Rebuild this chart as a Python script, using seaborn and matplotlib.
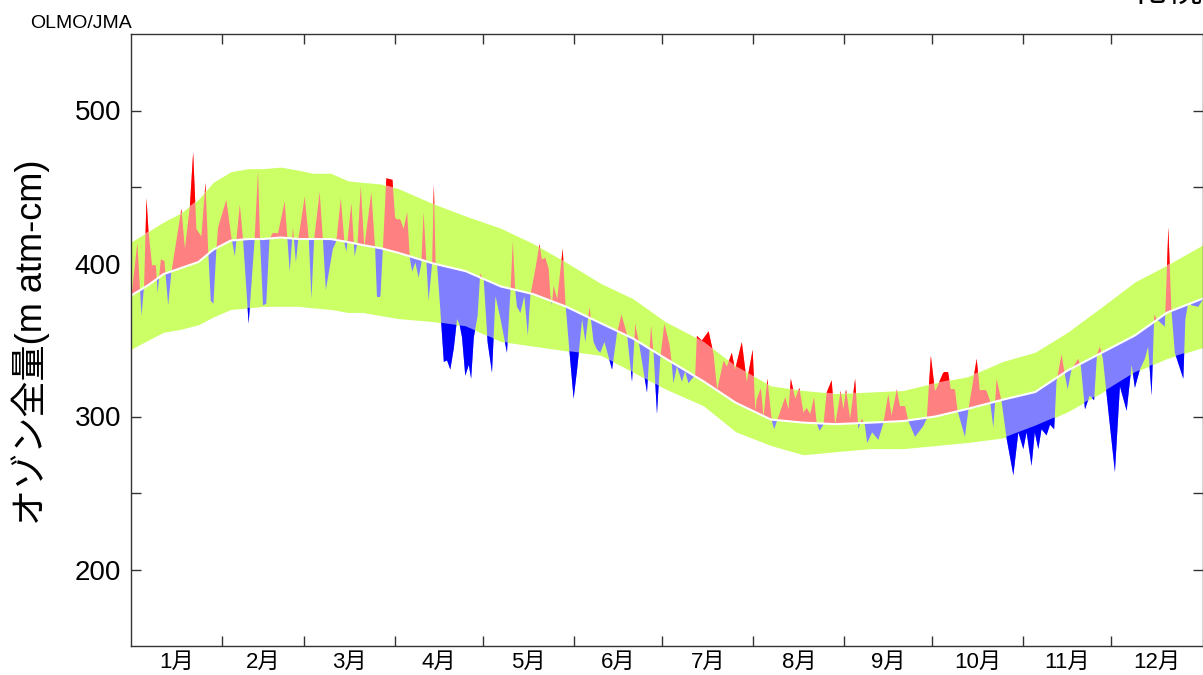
import numpy as np
import seaborn as sns
import matplotlib
matplotlib.use("Agg")
import matplotlib.pyplot as plt

# climatology (day of year)
clim_day = [0, 6, 11, 17, 23, 28, 34, 40, 45, 51, 57, 62, 68, 74, 79, 85, 91,
            103, 114, 126, 137, 148, 160, 171, 182, 195, 206, 218, 229, 240,
            252, 263, 274, 285, 297, 308, 319, 331, 342, 353, 365]
clim_mean = [379, 386, 393, 397, 401, 409, 415, 416, 416, 417, 416, 416, 416,
             414, 412, 410, 407, 400, 395, 385, 380, 372, 361, 351, 338, 323,
             309, 298, 296, 295, 296, 297, 300, 305, 311, 316, 330, 342, 353,
             368, 377]
clim_upper = [414, 421, 427, 433, 442, 453, 460, 462, 462, 463, 461, 459, 459,
              454, 453, 452, 449, 439, 431, 423, 413, 401, 387, 377, 362, 349,
              333, 320, 317, 315, 316, 317, 322, 326, 336, 342, 355, 372, 388,
              399, 412]
clim_lower = [344, 350, 355, 357, 360, 365, 370, 371, 372, 372, 372, 371, 370,
              368, 368, 366, 364, 362, 359, 349, 346, 343, 340, 329, 318, 307,
              290, 281, 275, 277, 279, 279, 281, 283, 286, 294, 303, 316, 329,
              338, 345]

# daily observations (key points)
obs_day = [0, 2.0, 3.4, 4.3, 5.1, 5.8, 7.0, 8.3, 8.9, 10.0, 11.2, 12.5, 13.6,
           17.0, 18.2, 19.9, 21.0, 22.1, 23.8, 25.2, 26.1, 27.0, 27.9, 28.9,
           29.5, 32.3, 34.0, 35.2, 36.9, 38.0, 39.9, 41.9, 43.1, 43.8, 44.8,
           45.9, 47.0, 48.0, 49.9, 52.2, 53.9, 55.0, 56.0, 56.8, 59.0, 60.4,
           61.3, 62.2, 64.1, 65.2, 66.2, 68.6, 69.8, 71.3, 72.6, 73.2, 74.9,
           76.0, 77.0, 78.1, 79.3, 81.7, 83.0, 83.6, 84.8, 85.6, 86.8, 88.9,
           89.8, 90.8,
           91.6, 92.7, 93.9, 94.8, 95.6, 96.7, 97.8, 98.7, 99.5, 100.5, 101.2,
           102.4, 103.0, 103.6, 104.1, 105.2, 106.4, 107.5, 108.6, 109.8,
           110.9, 111.8, 112.6, 113.7, 114.9, 115.7, 116.6, 117.9, 118.8,
           120.0, 121.3, 122.8, 124.0, 125.7, 127.9, 129.1, 129.9, 130.7,
           131.3, 132.5, 133.8, 135.0, 135.9, 137.6, 139.0, 139.8, 141.0,
           142.1, 142.7, 143.2, 143.8, 145.0, 146.9, 147.8, 149.0, 150.6,
           151.8, 153.5, 154.6, 156.0, 157.4, 158.6, 159.7, 161.1, 163.7,
           165.4, 166.9, 168.8, 170.5, 171.6, 172.8, 175.6, 177.0, 177.9,
           179.0, 180.1, 181.5, 183.3,
           184.0, 184.6, 185.8, 187.5, 188.6, 189.7, 190.9, 192.0, 192.6,
           194.3, 196.6, 198.3, 199.5, 201.7, 202.8, 204.5, 205.6, 207.9,
           209.6, 211.6, 212.5, 213.0, 214.4, 215.3, 216.6, 218.1, 218.9,
           219.8, 222.7, 223.8, 224.6, 226.1, 227.5, 228.9, 230.0, 231.2,
           232.5, 233.4, 234.4, 235.7, 236.8, 238.5, 239.7, 241.6, 242.5,
           243.4, 244.8, 246.5, 247.6, 248.8, 249.8, 250.6, 252.3, 254.4,
           256.1, 257.8, 258.9, 260.7, 261.8, 263.5, 264.7, 266.9, 269.7,
           270.9, 272.3, 273.7, 274.3, 276.5, 278.2, 279.1, 280.5, 281.4,
           283.9, 285.1, 287.9, 289.0, 291.3, 292.4, 293.6, 294.7, 296.4,
           298.1, 300.4, 302.1, 303.8, 304.9, 306.6, 307.7, 308.9, 310.0,
           311.7, 312.9, 314.3, 315.1, 316.8, 318.0, 318.9, 320.2, 322.5,
           323.4, 324.8, 326.4, 327.9, 328.9, 329.9, 330.9, 332.7, 335.0,
           336.7, 339.0, 340.7, 341.8, 343.5, 345.2, 346.3, 347.5, 348.4,
           349.2, 352.0, 353.2, 354.2, 355.4, 358.3, 359.0, 360.0, 361.1,
           363.4, 365.0]
obs_val = [379, 414, 366, 386, 443, 421, 399, 399, 381, 403, 402, 373, 395,
           436, 410, 438, 473, 423, 418, 453, 410, 376, 374, 409,
           424, 442, 418, 405, 439, 416, 361, 415, 461, 415, 373,
           374, 416, 420, 420, 441, 395, 424, 401, 416, 444, 416,
           377, 416, 447, 416, 383, 410, 415, 443, 413, 408, 440,
           405, 414, 451, 411, 447, 410, 379, 379, 409, 456, 455,
           430, 429,
           429, 423, 434, 404, 395, 401, 391, 400, 434, 400, 376,
           400, 452, 400, 399, 370, 336, 337, 331, 345,
           364, 360, 352, 327, 334, 325, 352, 366, 394,
           389, 349, 329, 379, 364, 342, 383, 415, 383,
           372, 368, 379, 353, 380, 397, 413, 403, 404,
           397, 379, 373, 386, 377, 410, 375, 347, 312,
           331, 364, 349, 372, 349, 344, 342, 349, 331,
           355, 367, 354, 323, 361, 349, 316, 360, 340,
           302, 338, 361, 347,
           336, 322, 333, 323, 330, 322, 325, 327, 353,
           350, 356, 341, 318, 337, 333, 342, 331, 349,
           323, 344, 304, 312, 319, 300, 325, 298, 292,
           297, 313, 305, 325, 312, 319, 303, 306, 302,
           313, 296, 291, 295, 316, 324, 295, 317, 305,
           318, 299, 325, 292, 299, 295, 283, 290, 285,
           296, 315, 301, 318, 307, 307, 297, 287, 294,
           299, 340, 317, 319, 329, 329, 318, 318, 304,
           287, 305, 338, 317, 317, 311, 293, 325, 310,
           286, 262, 290, 279, 290, 268, 290, 279, 292,
           288, 295, 292, 323, 341, 327, 318, 331, 338,
           333, 305, 314, 311, 341, 346, 338, 305, 264,
           320, 304, 334, 319, 331, 338, 346, 314, 367,
           364, 359, 424, 371, 342, 325, 364, 375, 373,
           372, 377]

month_edges = [31, 59, 90, 120, 151, 181, 212, 243, 273, 304, 334]
month_labels = [f"{m}月" for m in range(1, 13)]

GREEN = "#ccff66"
LIGHT_RED = "#ff8080"
RED = "#ff0000"
LIGHT_BLUE = "#8080ff"
BLUE = "#0000ff"

sns.set_theme(style="white")
plt.rcParams["font.family"] = ["Liberation Sans", "Noto Sans CJK JP", "DejaVu Sans"]
plt.rcParams["text.color"] = "black"
plt.rcParams["xtick.color"] = "black"
plt.rcParams["ytick.color"] = "black"

fig = plt.figure(figsize=(12.03, 6.75), dpi=100)
ax = fig.add_axes([131 / 1203, 1 - 646 / 675, 1071.5 / 1203, 612 / 675])

YMIN, YMAX = 150, 550
ax.fill_between(clim_day, clim_lower, clim_upper, color=GREEN, lw=0)


def region(y1, y2):
    # polygon of a climatology region, used as a clip path
    p = ax.fill_between(clim_day, y1, y2, lw=0)
    path = p.get_paths()[0]
    p.remove()
    return path


above_mean = region(clim_mean, YMAX + 20)
below_mean = region(YMIN - 20, clim_mean)
above_upper = region(clim_upper, YMAX + 20)
below_lower = region(YMIN - 20, clim_lower)

layers = [
    (YMIN - 20, LIGHT_RED, above_mean),
    (YMAX + 20, LIGHT_BLUE, below_mean),
    (YMIN - 20, RED, above_upper),
    (YMAX + 20, BLUE, below_lower),
]
for base, col, clip in layers:
    f = ax.fill_between(obs_day, obs_val, base, color=col, lw=0)
    f.set_clip_path(clip, ax.transData)

sns.lineplot(x=clim_day, y=clim_mean, color="white", lw=1.5, ax=ax, sort=True)

ax.set_xlim(0, 365)
ax.set_ylim(YMIN, YMAX)

ax.set_xticks(month_edges)
ax.set_xticklabels([])
mids = [(a + b) / 2 for a, b in zip([0] + month_edges, month_edges + [365])]
ax.set_xticks(mids, minor=True)
ax.set_xticklabels(month_labels, minor=True, fontsize=16)
ax.tick_params(axis="x", which="major", direction="in", length=7, width=1,
               top=True, bottom=True, color="#333333")
ax.tick_params(axis="x", which="minor", length=0, pad=4)

ax.set_yticks([200, 300, 400, 500])
ax.set_yticks([250, 350, 450], minor=True)
ax.tick_params(axis="y", which="both", direction="in", length=7, width=1,
               left=True, right=True, color="#333333", labelsize=20, pad=7)

for s in ax.spines.values():
    s.set_color("#333333")
    s.set_linewidth(1)

ax.set_xlabel("")
ax.set_ylabel("")
fig.text(31 / 1203, 0.493, "オゾン全量(m atm-cm)", rotation=90, fontsize=26,
         ha="center", va="center")
fig.text(30 / 1203, 1 - 28 / 675, "OLMO/JMA", fontsize=14, ha="left",
         va="baseline")
fig.text(1130 / 1203, 1 - 9 / 675, "札幌", fontsize=26, ha="left",
         va="bottom")

fig.savefig("out.png", dpi=100)
